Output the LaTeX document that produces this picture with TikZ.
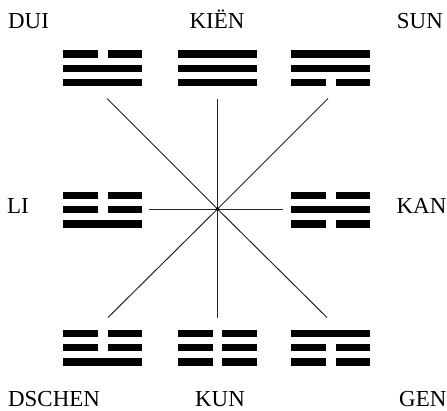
\documentclass[tikz,border=0pt]{standalone}
\usepackage{fontspec}
\setmainfont{Liberation Serif}
\tikzset{
  x=1bp, y=-1bp,
  lbl/.style={font=\fontsize{23}{26}\selectfont, inner sep=0pt},
  ray/.style={line width=1bp, draw=black!85},
  tri/.style={inner sep=0pt, minimum width=79bp, minimum height=36bp},
}
\newcommand\trirow[2]{%
  \ifnum#2=1
    \fill (-39.5,#1-3.6) rectangle (39.5,#1+3.6);
  \else
    \fill (-39.5,#1-3.6) rectangle (-4.8,#1+3.6);
    \fill (4.8,#1-3.6) rectangle (39.5,#1+3.6);
  \fi}
\newcommand\trigram[4]{\begin{scope}[shift={(#1)}]\trirow{-14.4}{#2}\trirow{0}{#3}\trirow{14.4}{#4}\end{scope}}
\begin{document}
\begin{tikzpicture}
\useasboundingbox (0,0) rectangle (447,410);
% trigram anchors
\node[tri] (dui) at (102.8,68.3) {};
\node[tri] (kien) at (217.5,68.3) {};
\node[tri] (sun) at (330.8,68.3) {};
\node[tri] (li) at (102.8,209.5) {};
\node[tri] (kan) at (330.8,209.5) {};
\node[tri] (dschen) at (102.8,347.5) {};
\node[tri] (kun) at (217.5,347.5) {};
\node[tri] (gen) at (330.8,347.5) {};
\trigram{dui}{0}{1}{1}
\trigram{kien}{1}{1}{1}
\trigram{sun}{1}{1}{0}
\trigram{li}{0}{0}{1}
\trigram{kan}{0}{1}{0}
\trigram{dschen}{0}{0}{1}
\trigram{kun}{0}{0}{0}
\trigram{gen}{1}{0}{0}
% labels
\node[lbl, anchor=base west] (tdui) at (8,28) {DUI};
\node[lbl, anchor=base] (tkien) at (217,28) {KIËN};
\node[lbl, anchor=base east] (tsun) at (443,28) {SUN};
\node[lbl, anchor=base west] (tli) at (7,213.5) {LI};
\node[lbl, anchor=base east] (tkan) at (446.5,213.5) {KAN};
\node[lbl, anchor=base west] (tdschen) at (8,406) {DSCHEN};
\node[lbl, anchor=base] (tkun) at (220,406) {KUN};
\node[lbl, anchor=base east] (tgen) at (446.5,406) {GEN};
% rays
\coordinate (c) at (217.5,209);
\coordinate (eN) at (217.5,98.5);
\coordinate (eS) at (217.5,317.5);
\coordinate (eW) at (149,209);
\coordinate (eE) at (283,209);
\coordinate (eNW) at (107,98.5);
\coordinate (eNE) at (328,98.5);
\coordinate (eSW) at (108,317.5);
\coordinate (eSE) at (327,317.5);
\foreach \e in {eN,eS,eW,eE,eNW,eNE,eSW,eSE} \draw[ray] (c) -- (\e);
\fill (c) circle (1.8);
\end{tikzpicture}
\end{document}
